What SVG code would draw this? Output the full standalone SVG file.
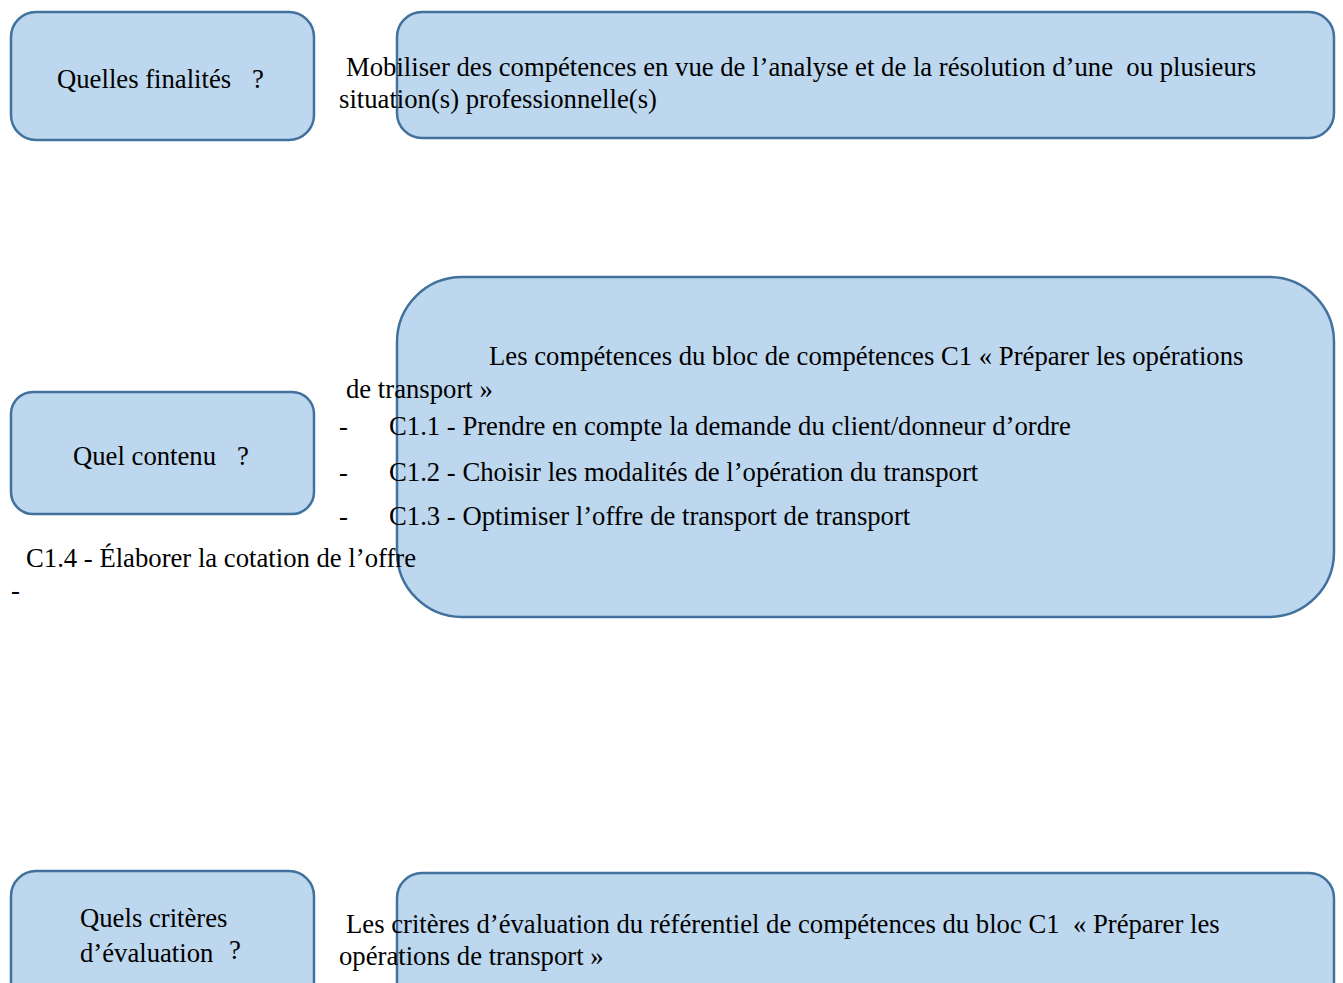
<svg xmlns="http://www.w3.org/2000/svg" width="1343" height="983" viewBox="0 0 1343 983">
<style>
.box{fill:#BDD7EE;stroke:#41719C;stroke-width:2.5}
text{font-family:"Liberation Serif","Times New Roman",serif;font-size:26.7px;fill:#000;white-space:pre}
</style>
<rect width="1343" height="983" fill="#fff"/>
<g id="q1"><rect class="box" x="11" y="12" width="303" height="128" rx="25"/></g>
<g id="a1"><rect class="box" x="397" y="12" width="937" height="126" rx="25"/></g>
<g id="q2"><rect class="box" x="11" y="392" width="303" height="122" rx="22"/></g>
<g id="a2"><rect class="box" x="397" y="277" width="937" height="340" rx="65"/></g>
<g id="q3"><rect class="box" x="11" y="871" width="303" height="140" rx="25"/></g>
<g id="a3"><rect class="box" x="397" y="873" width="937" height="140" rx="25"/></g>
<g id="connectors"></g>
<g id="texts">
<text x="57" y="88">Quelles finalités</text><text x="252" y="88">?</text>
<text x="346" y="76" xml:space="preserve">Mobiliser des compétences en vue de l’analyse et de la résolution d’une  ou plusieurs</text>
<text x="339" y="108">situation(s) professionnelle(s)</text>
<text x="73" y="465">Quel contenu</text><text x="237" y="465">?</text>
<text x="489" y="365">Les compétences du bloc de compétences C1 « Préparer les opérations</text>
<text x="346" y="398">de transport »</text>
<text x="339" y="435">-</text><text x="389" y="435">C1.1 - Prendre en compte la demande du client/donneur d’ordre</text>
<text x="339" y="481">-</text><text x="389" y="481">C1.2 - Choisir les modalités de l’opération du transport</text>
<text x="339" y="525">-</text><text x="389" y="525">C1.3 - Optimiser l’offre de transport de transport</text>
<text x="26" y="567">C1.4 - Élaborer la cotation de l’offre</text>
<text x="11" y="599">-</text>
<text x="80" y="927">Quels critères</text>
<text x="80" y="962">d’évaluation</text><text x="229" y="959">?</text>
<text x="346" y="933" xml:space="preserve">Les critères d’évaluation du référentiel de compétences du bloc C1  « Préparer les</text>
<text x="339" y="965">opérations de transport »</text>
</g>
</svg>
